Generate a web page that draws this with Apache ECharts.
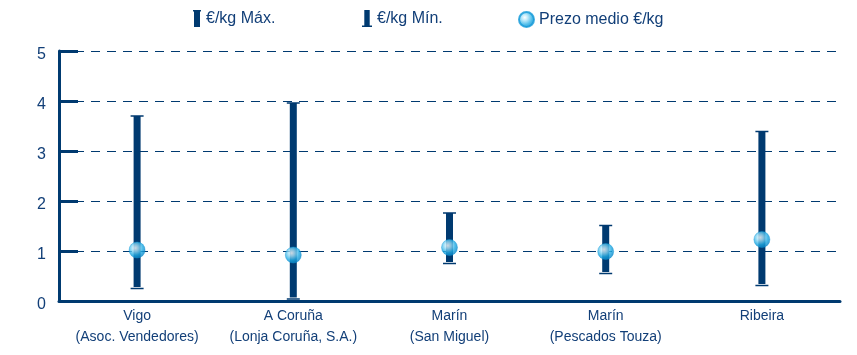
<!DOCTYPE html>
<html><head><meta charset="utf-8">
<script src="https://cdn.jsdelivr.net/npm/echarts@6/dist/echarts.min.js"></script>
<style>html,body{margin:0;padding:0;background:#fff}#c{width:857px;height:355px}</style>
</head><body><div id="c"></div>
<script>
const categories = ['Vigo\n(Asoc. Vendedores)', 'A Coruña\n(Lonja Coruña, S.A.)', 'Marín\n(San Miguel)', 'Marín\n(Pescados Touza)', 'Ribeira'];
const maxValues = [3.70, 3.96, 1.76, 1.51, 3.39];
const minValues = [0.28, 0.07, 0.78, 0.58, 0.34];
const meanValues = [1.02, 0.92, 1.07, 0.99, 1.23];
const yTicks = [0, 1, 2, 3, 4, 5];

const C = '#003a70';
const TXT = '#123f78';
const FONT = 'Liberation Sans';
const chart = echarts.init(document.getElementById('c'));

const rangeData = categories.map((c, i) => [i, minValues[i], maxValues[i]]);
const minData = categories.map((c, i) => [i, minValues[i]]);
const meanData = categories.map((c, i) => [i, meanValues[i]]);

const sphere = {
  type: 'radial', x: 0.4, y: 0.38, r: 0.62,
  colorStops: [{offset: 0, color: '#ffffff'}, {offset: 0.3, color: '#a8e2f8'}, {offset: 0.7, color: '#22ace4'}, {offset: 1, color: '#0a86c8'}]
};

const legendText = {color: TXT, fontSize: 16, fontFamily: FONT};

chart.setOption({
  animation: false,
  grid: {left: 59, right: 17, top: 51, bottom: 54},
  legend: [
    {left: 188, top: 5, itemWidth: 8, itemHeight: 17, itemGap: 4, symbolKeepAspect: false, textStyle: legendText,
     data: [{name: '€/kg Máx.', icon: 'path://M0,0H8V1.5H7V17H1V1.5H0Z'}]},
    {left: 357, top: 5, itemWidth: 10, itemHeight: 17, itemGap: 3, symbolKeepAspect: false, textStyle: legendText,
     data: [{name: '€/kg Mín.', icon: 'path://M2.3,0H7.7V15.5H10V17H0V15.5H2.3Z'}]},
    {left: 513, top: 6, itemWidth: 15, itemHeight: 15, itemGap: 5, textStyle: legendText,
     data: [{name: 'Prezo medio €/kg', icon: 'circle'}]}
  ],
  xAxis: {
    type: 'category', data: categories,
    axisLine: {lineStyle: {color: C, width: 3}},
    axisTick: {show: false},
    axisLabel: {color: TXT, fontSize: 14, fontFamily: FONT, lineHeight: 21, margin: 5, interval: 0}
  },
  yAxis: {
    type: 'value', min: 0, max: 5, interval: 1,
    axisLine: {show: true, lineStyle: {color: C, width: 3}},
    axisTick: {show: true, inside: true, length: 19, lineStyle: {color: C, width: 3}},
    axisLabel: {
      margin: 13,
      formatter: v => yTicks.includes(v) ? '{a|' + v + '}' : '',
      rich: {a: {color: TXT, fontSize: 16, fontFamily: FONT, padding: [8, 0, 0, 0]}}
    },
    splitLine: {show: true, lineStyle: {color: C, width: 1, type: [9, 7]}}
  },
  series: [
    {
      name: '€/kg Máx.', type: 'custom', itemStyle: {color: C}, data: rangeData,
      encode: {x: 0, y: [1, 2]},
      renderItem: function (params, api) {
        const x = api.value(0);
        const lo = api.coord([x, api.value(1)]);
        const hi = api.coord([x, api.value(2)]);
        const w = 7;
        return {type: 'group', children: [
          {type: 'rect', shape: {x: lo[0] - w / 2, y: hi[1], width: w, height: lo[1] - hi[1]}, style: {fill: C}},
          {type: 'line', shape: {x1: hi[0] - 6.5, y1: hi[1], x2: hi[0] + 6.5, y2: hi[1]}, style: {stroke: C, lineWidth: 1.5}}
        ]};
      }
    },
    {
      name: '€/kg Mín.', type: 'custom', itemStyle: {color: C}, data: minData,
      encode: {x: 0, y: 1}, z: 3,
      renderItem: function (params, api) {
        const p = api.coord([api.value(0), api.value(1)]);
        return {type: 'line', shape: {x1: p[0] - 6.5, y1: p[1] + 1.5, x2: p[0] + 6.5, y2: p[1] + 1.5}, style: {stroke: C, lineWidth: 1.5}};
      }
    },
    {
      name: 'Prezo medio €/kg', type: 'scatter', data: meanData, symbol: 'circle', symbolSize: 16, z: 5,
      itemStyle: {color: sphere, borderColor: '#1199d8', borderWidth: 0.5}
    }
  ]
});
</script></body></html>
